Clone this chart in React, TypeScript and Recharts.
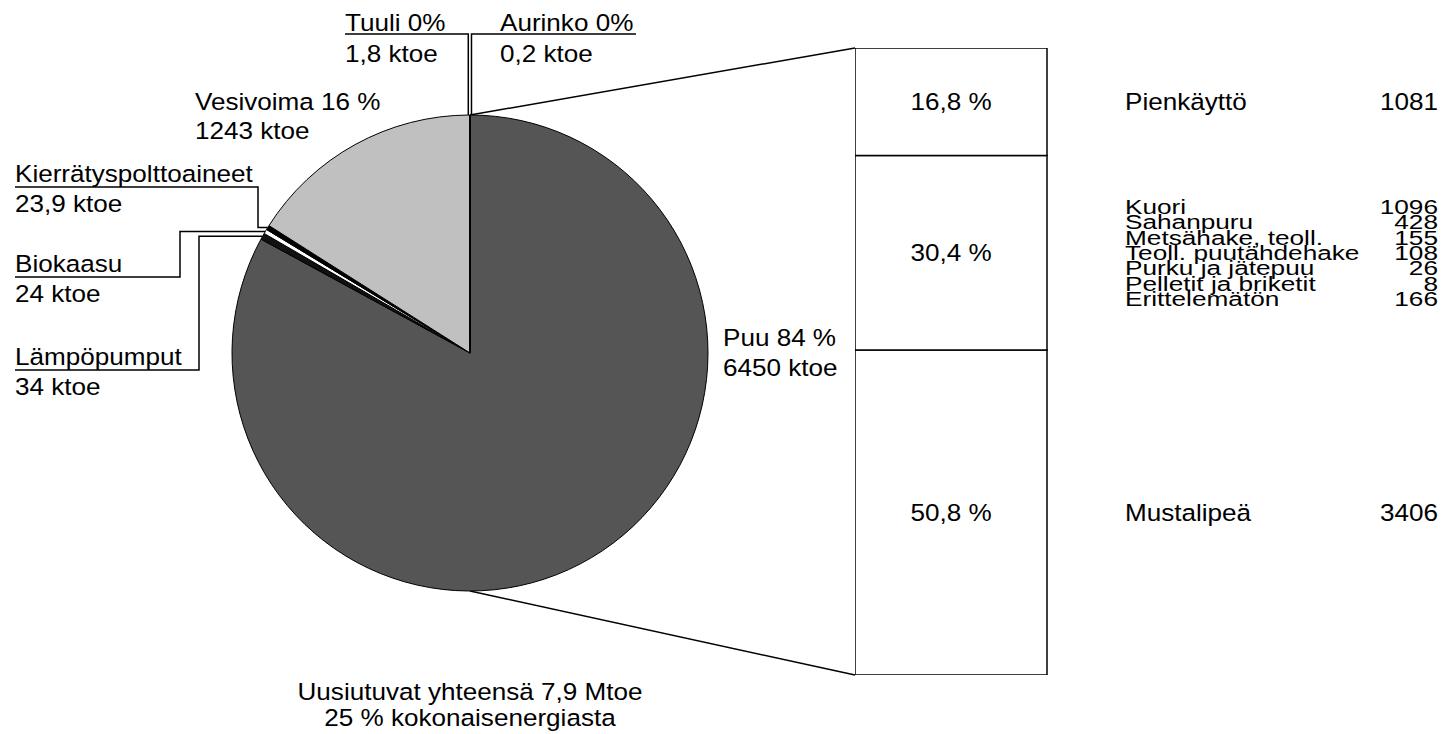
import React from 'react';
import { PieChart, Pie, Cell, BarChart, Bar, XAxis, YAxis, LabelList } from 'recharts';

// ---------- DATA ----------
const sourceNames = ['Puu', 'Lämpöpumput', 'Biokaasu', 'Kierrätyspolttoaineet', 'Vesivoima', 'Tuuli', 'Aurinko'];
const sourceKtoe = [6450, 34, 24, 23.9, 1243, 1.8, 0.2];
const sourceLabelLine1 = ['Puu 84 %', 'Lämpöpumput', 'Biokaasu', 'Kierrätyspolttoaineet', 'Vesivoima 16 %', 'Tuuli 0%', 'Aurinko 0%'];
const sourceLabelLine2 = ['6450 ktoe', '34 ktoe', '24 ktoe', '23,9 ktoe', '1243 ktoe', '1,8 ktoe', '0,2 ktoe'];

// wood breakdown, bottom to top of the bar
const woodSegmentKeys = ['mustalipea', 'teollisuus', 'pienkaytto'];
const woodSegmentPercent = [50.8, 30.4, 16.8];
const mustalipeaNames = ['Mustalipeä'];
const mustalipeaValues = [3406];
const industryNames = ['Kuori', 'Sahanpuru', 'Metsähake, teoll.', 'Teoll. puutähdehake', 'Purku ja jätepuu', 'Pelletit ja briketit', 'Erittelemätön'];
const industryValues = [1096, 428, 155, 108, 26, 8, 166];
const smallUseNames = ['Pienkäyttö'];
const smallUseValues = [1081];
const totalLines = ['Uusiutuvat yhteensä 7,9 Mtoe', '25 % kokonaisenergiasta'];

// ---------- STYLE / LAYOUT ----------
const W = 1445;
const H = 734;
const FONT = "'Liberation Sans', Arial, Helvetica, sans-serif";
const PIE_CX = 470;
const PIE_CY = 353;
const PIE_R = 238;
const BAR_LEFT = 855;
const BAR_TOP = 48;
const BAR_W = 192;
const BAR_H = 627;
const sliceColors = ['#555555', '#111111', '#ffffff', '#000000', '#c0c0c0', '#000000', '#000000'];

type LabelLayout =
  | { kind: 'plain'; x: number; y1: number; y2: number }
  | { kind: 'left'; textX: number; y1: number; y2: number; lineY: number; elbowX: number }
  | { kind: 'top'; textX: number; y1: number; y2: number; lineY: number; endX: number; dx: number };

const labelLayouts: LabelLayout[] = [
  { kind: 'plain', x: 723, y1: 346, y2: 376 },
  { kind: 'left', textX: 15, y1: 365, y2: 395, lineY: 370, elbowX: 199 },
  { kind: 'left', textX: 15, y1: 272, y2: 302, lineY: 277, elbowX: 180 },
  { kind: 'left', textX: 15, y1: 182, y2: 212, lineY: 187, elbowX: 258 },
  { kind: 'plain', x: 195, y1: 110, y2: 139 },
  { kind: 'top', textX: 345, y1: 31, y2: 62, lineY: 34, endX: 345, dx: -1.5 },
  { kind: 'top', textX: 500, y1: 31, y2: 62, lineY: 34, endX: 636, dx: 1.5 },
];

const FS = 23.5;
const SX = 1.11;

function T({ x, y, anchor = 'start', size = FS, sx = SX, children }: any) {
  return (
    <text
      transform={`translate(${x},${y}) scale(${sx},1)`}
      textAnchor={anchor}
      fontSize={size}
      fontFamily={FONT}
      fill="#000"
    >
      {children}
    </text>
  );
}

const pieData = sourceNames.map((name, i) => ({ name, value: sourceKtoe[i] }));

const barRow: any = { name: 'Puu' };
woodSegmentKeys.forEach((k, i) => {
  barRow[k] = woodSegmentPercent[i];
});
const barData = [barRow];

const RAD = Math.PI / 180;

function renderPieLabel(props: any) {
  const { cx, cy, midAngle, outerRadius, index } = props;
  const lay = labelLayouts[index];
  const px = cx + outerRadius * Math.cos(-midAngle * RAD);
  const py = cy + outerRadius * Math.sin(-midAngle * RAD);
  const l1 = sourceLabelLine1[index];
  const l2 = sourceLabelLine2[index];
  if (lay.kind === 'plain') {
    return (
      <g key={`lbl-${index}`}>
        <T x={lay.x} y={lay.y1}>{l1}</T>
        <T x={lay.x} y={lay.y2}>{l2}</T>
      </g>
    );
  }
  if (lay.kind === 'left') {
    const pts = `${px},${py} ${lay.elbowX},${py} ${lay.elbowX},${lay.lineY} ${lay.textX},${lay.lineY}`;
    return (
      <g key={`lbl-${index}`}>
        <polyline points={pts} fill="none" stroke="#000" strokeWidth={1.5} />
        <T x={lay.textX} y={lay.y1}>{l1}</T>
        <T x={lay.textX} y={lay.y2}>{l2}</T>
      </g>
    );
  }
  const vx = px + lay.dx;
  const pts = `${vx},${py} ${vx},${lay.lineY} ${lay.endX},${lay.lineY}`;
  return (
    <g key={`lbl-${index}`}>
      <polyline points={pts} fill="none" stroke="#000" strokeWidth={1.5} />
      <T x={lay.textX} y={lay.y1}>{l1}</T>
      <T x={lay.textX} y={lay.y2}>{l2}</T>
    </g>
  );
}

const segmentLists: { names: string[]; values: number[]; spacing: number; size: number; sx: number }[] = [
  { names: mustalipeaNames, values: mustalipeaValues, spacing: 0, size: FS, sx: SX },
  { names: industryNames, values: industryValues, spacing: 15.3, size: 20, sx: 1.31 },
  { names: smallUseNames, values: smallUseValues, spacing: 0, size: FS, sx: SX },
];

function makeSegmentLabel(segIdx: number) {
  return (props: any) => {
    const vb = props.viewBox || props;
    const x = Number(vb.x);
    const y = Number(vb.y);
    const w = Number(vb.width);
    const h = Number(vb.height);
    const cxm = x + w / 2;
    const cym = y + h / 2;
    const list = segmentLists[segIdx];
    const n = list.names.length;
    const nameX = x + w + 78;
    const valX = x + w + 391;
    const startY = cym - ((n - 1) * list.spacing) / 2 + list.size * 0.36;
    const pct = String(woodSegmentPercent[segIdx]).replace('.', ',') + ' %';
    return (
      <g key={`seg-${segIdx}`}>
        <T x={cxm} y={cym + FS * 0.36} anchor="middle">{pct}</T>
        {list.names.map((nm, i) => (
          <g key={nm}>
            <T x={nameX} y={startY + i * list.spacing} size={list.size} sx={list.sx}>{nm}</T>
            <T x={valX} y={startY + i * list.spacing} size={list.size} sx={list.sx} anchor="end">
              {String(list.values[i])}
            </T>
          </g>
        ))}
      </g>
    );
  };
}

export default function App() {
  return (
    <div
      style={{
        position: 'absolute',
        left: 0,
        top: 0,
        width: W,
        height: H,
        background: '#fff',
        overflow: 'hidden',
        fontFamily: FONT,
      }}
    >
      <svg width={W} height={H} style={{ position: 'absolute', left: 0, top: 0 }}>
        <line x1={PIE_CX} y1={PIE_CY - PIE_R} x2={BAR_LEFT} y2={BAR_TOP} stroke="#000" strokeWidth={1.5} />
        <line x1={PIE_CX} y1={PIE_CY + PIE_R} x2={BAR_LEFT} y2={BAR_TOP + BAR_H} stroke="#000" strokeWidth={1.5} />
        <T x={PIE_CX} y={700} anchor="middle">{totalLines[0]}</T>
        <T x={PIE_CX} y={726} anchor="middle">{totalLines[1]}</T>
      </svg>
      <div style={{ position: 'absolute', left: 0, top: 0 }}>
        <PieChart width={W} height={H} margin={{ top: 0, right: 0, bottom: 0, left: 0 }}>
          <Pie
            data={pieData}
            dataKey="value"
            nameKey="name"
            cx={PIE_CX}
            cy={PIE_CY}
            outerRadius={PIE_R}
            innerRadius={0}
            startAngle={90}
            endAngle={-270}
            stroke="#000"
            strokeWidth={1}
            label={renderPieLabel}
            labelLine={false}
            isAnimationActive={false}
          >
            {pieData.map((d, i) => (
              <Cell key={d.name} fill={sliceColors[i]} stroke="#000" strokeWidth={1} />
            ))}
          </Pie>
        </PieChart>
      </div>
      <div style={{ position: 'absolute', left: BAR_LEFT, top: BAR_TOP }}>
        <BarChart
          width={W - BAR_LEFT}
          height={BAR_H}
          data={barData}
          margin={{ top: 0, right: W - BAR_LEFT - BAR_W, bottom: 0, left: 0 }}
          barCategoryGap={0}
          barGap={0}
        >
          <XAxis dataKey="name" hide />
          <YAxis hide domain={[0, 98]} />
          {woodSegmentKeys.map((k, i) => (
            <Bar
              key={k}
              dataKey={k}
              stackId="wood"
              fill="#fff"
              stroke="#000"
              strokeWidth={1.5}
              isAnimationActive={false}
            >
              <LabelList dataKey={k} content={makeSegmentLabel(i)} />
            </Bar>
          ))}
        </BarChart>
      </div>
    </div>
  );
}
